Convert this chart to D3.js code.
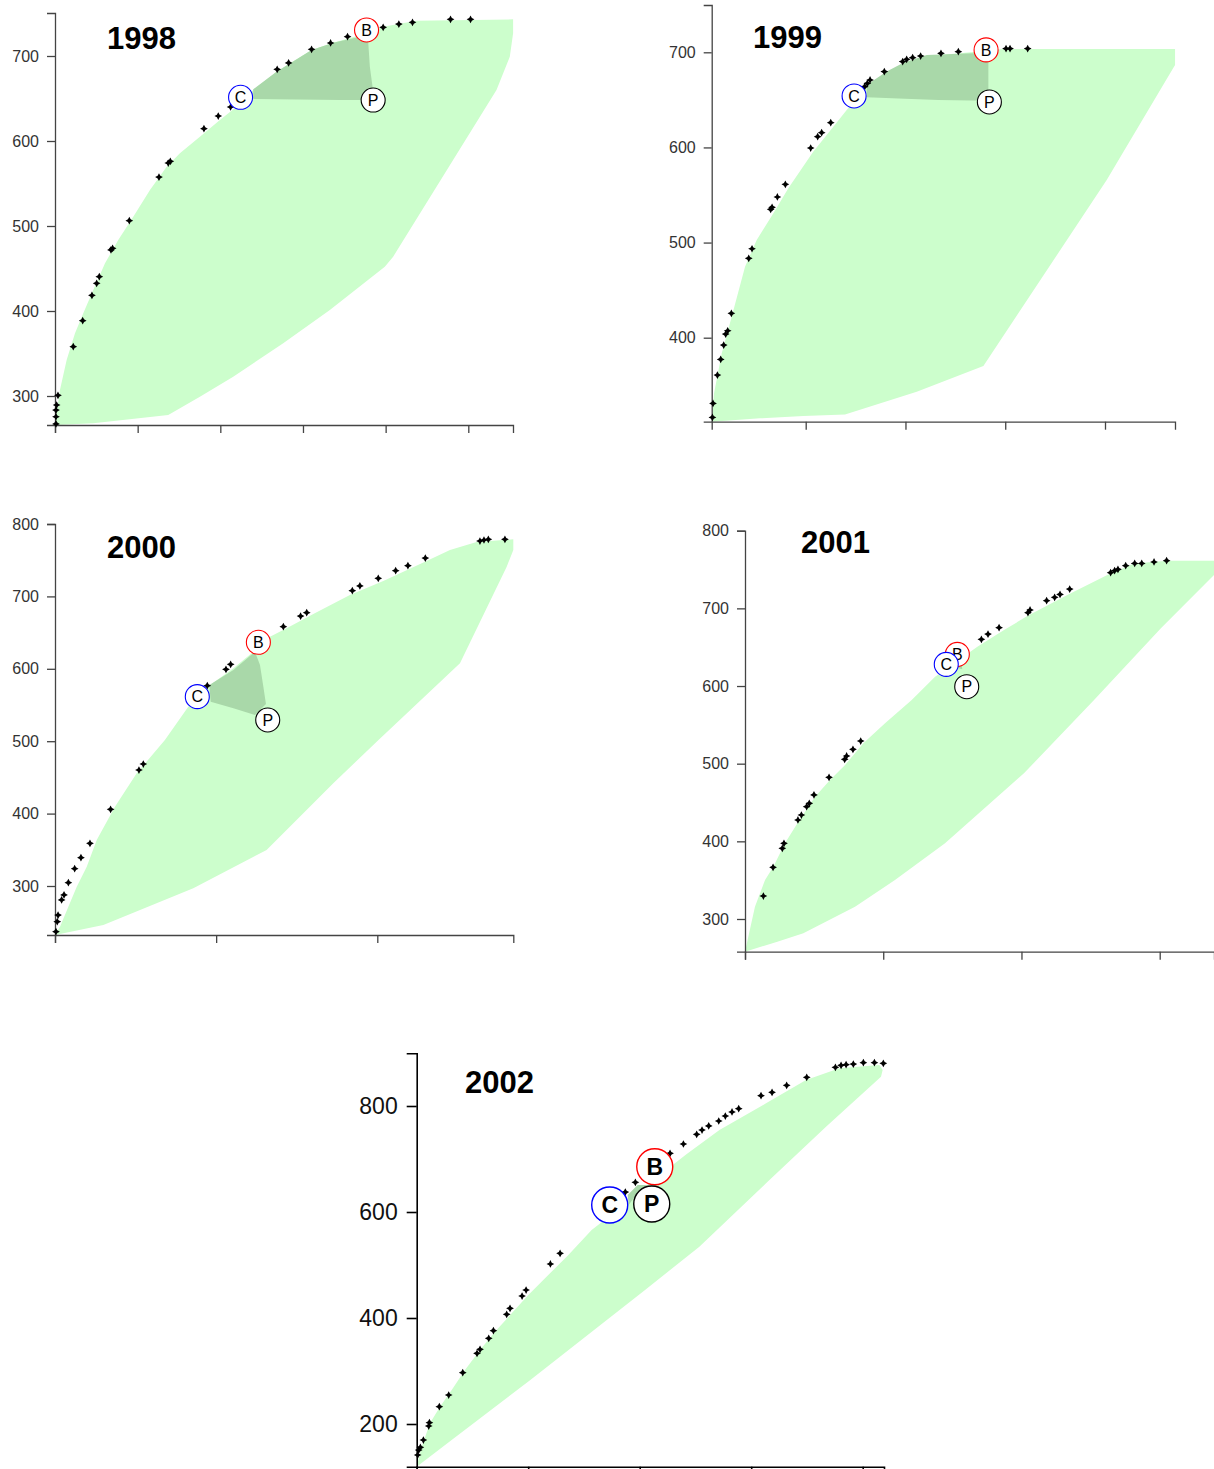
<!DOCTYPE html>
<html>
<head>
<meta charset="utf-8">
<script src="https://cdn.jsdelivr.net/npm/d3@7"></script>
<style>
  body { margin: 0; background: #fff; }
  svg { display: block; }
</style>
</head>
<body>
<svg id="chart" width="1214" height="1469"></svg>
<script>
// values, [x, y] per mark
const years = ["1998", "1999", "2000", "2001", "2002"];

const points1998 = [[0.12,267.1],[0.12,275.6],[0.12,283.5],[0.2,289.4],[0.36,300.8],[2.21,358.0],[3.35,388.6],[4.47,418.5],[5.04,432.6],[5.36,440.4],[6.77,471.8],[6.97,473.8],[8.99,506.3],[12.58,557.6],[13.7,574.1],[13.95,576.1],[18.02,614.5],[19.75,629.4],[21.24,640.0],[26.88,684.3],[28.26,691.8],[31.04,707.9],[33.34,715.3],[35.39,722.7],[39.7,733.8],[41.6,737.6],[43.25,739.6],[47.85,743.2],[50.27,743.2]];
const region1998 = [[0,265.9],[0.6,307.1],[1.41,342.4],[2.42,373.8],[3.42,397.3],[4.63,424.7],[6.05,456.1],[7.65,483.5],[9.47,510.9],[11.49,542.4],[13.51,569.8],[15.11,585.5],[17.53,605.1],[19.95,624.7],[21.97,640.4],[23.98,660.0],[26.8,681.6],[31.04,707.1],[33.66,715.7],[37.69,726.7],[39.7,734.5],[43.73,741.6],[55.42,743.1],[55.42,726.7],[55.02,699.2],[53.41,660.0],[40.91,463.9],[39.9,452.2],[33.25,401.2],[27.61,362.0],[21.56,322.7],[17.53,299.2],[13.7,277.6],[4.63,267.9]];
const shade1998 = [[23.98,660.8],[26.8,681.6],[31.04,707.1],[33.66,715.7],[37.28,723.5],[37.89,716.9],[38.09,687.5],[38.41,664.0],[38.29,648.2],[34.46,648.2],[23.98,649.4]];
const labels1998 = [["B",37.69,730.6],["C",22.45,651.4],["P",38.49,648.2]];
const yTicks1998 = [300,400,500,600,700];
const xTicks1998 = [0,10,20,30,40,50];

const points1999 = [[0.65,316.2],[0.71,330.9],[1.15,360.7],[1.48,377.2],[1.78,392.3],[1.98,403.8],[2.18,407.3],[2.55,425.6],[4.29,483.4],[4.62,493.5],[6.49,534.9],[6.63,537.0],[7.16,547.9],[7.96,561.2],[10.5,599.4],[11.2,611.3],[11.6,615.5],[12.51,626.0],[15.91,663.9],[16.18,667.4],[16.45,670.9],[17.88,679.7],[19.72,690.2],[20.12,692.6],[20.72,694.4],[21.52,696.1],[23.56,698.9],[25.3,700.7],[30.08,703.9],[30.48,703.9],[32.25,703.9]];
const region1999 = [[0.58,311.6],[0.81,341.4],[1.58,383.5],[2.58,422.0],[3.92,474.6],[5.09,502.7],[6.76,530.7],[8.26,557.0],[10.77,595.6],[12.77,621.8],[14.11,639.4],[16.11,663.2],[18.12,678.6],[19.79,687.7],[22.13,696.1],[25.47,698.9],[28.31,701.8],[29.82,703.5],[47.02,703.5],[47.02,686.7],[40.17,565.8],[27.81,370.2],[21.13,343.2],[13.94,319.3],[9.77,317.6],[5.42,315.2]];
const shade1999 = [[16.11,665.7],[18.12,679.7],[19.79,689.1],[22.13,697.2],[26.81,698.9],[28.31,690.2],[28.31,649.2],[23.3,649.9],[19.96,651.3],[16.11,652.7]];
const labels1999 = [["B",28.08,702.5],["C",14.85,654.1],["P",28.41,647.8]];
const yTicks1999 = [400,500,600,700];
const xTicks1999 = [10,20,30,40];

const points2000 = [[0.06,236.9],[0.14,250.7],[0.19,259.9],[0.41,280.7],[0.56,287.6],[0.83,304.6],[1.22,323.9],[1.61,339.1],[2.17,358.9],[3.45,405.9],[5.21,460.2],[5.48,468.5],[9.45,576.7],[10.61,599.3],[10.9,606.2],[14.17,658.2],[15.24,672.9],[15.62,677.5],[18.45,707.9],[18.92,714.4],[20.06,725.0],[21.14,735.5],[21.9,742.4],[22.98,753.0],[26.37,776.5],[26.62,777.9],[26.89,778.8],[27.92,778.8]];
const region2000 = [[0,232.3],[0.31,243.8],[0.83,271.4],[1.35,299.0],[1.97,326.7],[2.59,363.5],[3.72,409.5],[5.07,455.6],[6.82,501.7],[8.27,547.7],[9.82,580.9],[11.07,600.6],[12.31,623.7],[13.34,644.4],[14.37,655.9],[16.03,675.7],[18.3,701.9],[20.37,721.3],[23.06,748.9],[24.51,764.1],[26.16,775.1],[28.44,778.8],[28.44,764.1],[28.03,741.1],[25.13,607.6],[19.96,499.4],[17.27,441.8],[13.13,349.7],[8.58,296.8],[3.0,246.1]];
const shade2000 = [[9.58,577.6],[11.07,598.3],[12.41,623.7],[12.72,605.2],[12.93,575.3],[13.09,551.4],[12.41,536.2],[11.07,545.4],[9.66,554.6]];
const labels2000 = [["B",12.62,636.6],["C",8.83,561.5],["P",13.2,529.3]];
const yTicks2000 = [300,400,500,600,700,800];
const xTicks2000 = [0,10,20];

const points2001 = [[1.33,329.6],[2.03,366.5],[2.7,391.0],[2.82,397.4],[3.83,427.5],[4.08,433.9],[4.46,444.6],[4.65,448.9],[4.99,459.7],[6.08,482.4],[7.21,505.6],[7.35,509.9],[7.81,518.5],[8.37,529.2],[17.1,660.1],[17.58,666.9],[18.38,675.1],[20.47,694.4],[20.62,697.9],[21.82,709.9],[22.4,714.2],[22.79,718.0],[23.49,724.9],[26.45,745.9],[26.74,748.5],[26.98,750.2],[27.54,754.9],[28.19,757.9],[28.7,757.9],[29.59,759.7],[30.5,761.4]];
const region2001 = [[0,257.9],[0.72,315.8],[1.45,350.2],[2.05,367.4],[2.89,397.5],[3.86,425.3],[5.07,457.5],[6.15,479.0],[7.24,498.3],[8.56,526.2],[10.13,552.0],[12.06,582.0],[13.75,612.0],[16.81,650.6],[18.74,672.1],[20.42,690.1],[23.32,717.2],[26.21,742.9],[28.14,757.9],[30.55,761.4],[33.93,761.4],[33.93,742.9],[30.07,674.2],[25.25,582.0],[20.18,487.6],[14.47,397.5],[10.85,350.2],[7.96,315.8],[4.22,281.6],[2.34,270.8]];
const shade2001 = [[15.0,624.9],[15.6,637.8],[15.72,621.5]];
const labels2001 = [["B",15.36,640.8],["C",14.56,627.9],["P",16.04,599.1]];
const yTicks2001 = [300,400,500,600,700,800];
const xTicks2001 = [0,10,20,30];

const points2002 = [[0.09,141.5],[0.18,150.9],[0.33,156.0],[0.6,169.8],[1.08,196.2],[1.14,202.5],[2.03,232.7],[2.87,254.7],[4.13,296.9],[5.41,333.3],[5.68,340.9],[6.46,361.6],[6.88,376.1],[8.07,406.9],[8.37,418.2],[9.45,441.5],[9.81,452.8],[11.99,501.9],[12.86,522.0],[18.71,637.7],[19.61,656.0],[22.72,710.7],[23.92,728.3],[25.11,746.5],[25.59,754.7],[26.19,762.3],[27.09,771.7],[27.68,781.1],[28.28,788.7],[28.88,795.0],[30.88,819.5],[31.87,825.8],[33.18,839.0],[34.98,854.1],[37.55,873.0],[38.06,876.7],[38.51,878.0],[39.16,879.2],[40.06,881.8],[41.05,881.8],[41.85,880.5]];
const region2002 = [[0,119.4],[0.45,157.2],[1.19,201.3],[2.09,232.7],[3.14,264.2],[4.33,301.9],[5.68,339.6],[7.02,374.2],[8.52,408.8],[10.01,443.4],[11.8,481.1],[13.6,518.9],[15.69,566.0],[18.77,616.4],[20.87,654.1],[24.16,708.5],[27.15,754.7],[31.33,805.0],[34.92,849.1],[37.91,871.1],[41.49,877.4],[41.79,867.9],[41.64,855.3],[36.71,761.0],[31.33,654.1],[25.35,534.6],[20.48,452.8],[10.19,283.0],[2.93,166.7]];
const shade2002 = [[18.92,632.1],[19.82,651.1],[20.72,651.1],[19.67,632.1],[19.01,613.2]];
const labels2002 = [["B",21.35,685.5],["C",17.31,613.2],["P",21.08,615.1]];
const yTicks2002 = [200,400,600,800];
const xTicks2002 = [0,10,20,30,40];

// layout: plot frame in px plus two known ticks per axis to pin the scales
const panels = [
  { year: years[0], points: points1998, region: region1998, shade: shade1998, labels: labels1998, yTicks: yTicks1998, xTicks: xTicks1998,
    frame: { left: 55, right: 513, top: 13, bottom: 425 }, yCal: [[300, 396], [700, 56]], xCal: [[0, 55], [50, 468.3]], title: [107, 49], big: false },
  { year: years[1], points: points1999, region: region1999, shade: shade1999, labels: labels1999, yTicks: yTicks1999, xTicks: xTicks1999,
    frame: { left: 711.7, right: 1175, top: 5, bottom: 421.7 }, yCal: [[400, 337.7], [700, 52.3]], xCal: [[10, 805.7], [40, 1105]], title: [753, 48], big: false },
  { year: years[2], points: points2000, region: region2000, shade: shade2000, labels: labels2000, yTicks: yTicks2000, xTicks: xTicks2000,
    frame: { left: 55, right: 513.3, top: 524, bottom: 935 }, yCal: [[300, 886], [800, 524]], xCal: [[0, 55], [20, 377.3]], title: [107, 558], big: false },
  { year: years[3], points: points2001, region: region2001, shade: shade2001, labels: labels2001, yTicks: yTicks2001, xTicks: xTicks2001,
    frame: { left: 745, right: 1214, top: 530.7, bottom: 951.7 }, yCal: [[300, 919], [800, 530.7]], xCal: [[0, 745], [30, 1159.7]], title: [801, 553], big: false },
  { year: years[4], points: points2002, region: region2002, shade: shade2002, labels: labels2002, yTicks: yTicks2002, xTicks: xTicks2002,
    frame: { left: 416.7, right: 884, top: 1053.3, bottom: 1466.7 }, yCal: [[200, 1424], [800, 1106]], xCal: [[0, 416.7], [40, 862.7]], title: [465, 1093], big: true }
];

const labelColor = { B: "#ff0000", C: "#0000ff", P: "#000000" };

// small four-pointed star like the original markers
const star4 = {
  draw(ctx, size) {
    const r = Math.sqrt(size), i = r * 0.35;
    ctx.moveTo(0, -r); ctx.lineTo(i, -i); ctx.lineTo(r, 0); ctx.lineTo(i, i);
    ctx.lineTo(0, r); ctx.lineTo(-i, i); ctx.lineTo(-r, 0); ctx.lineTo(-i, -i);
    ctx.closePath();
  }
};

const svg = d3.select("#chart");

panels.forEach(p => {
  const f = p.frame;
  const x = d3.scaleLinear().domain([p.xCal[0][0], p.xCal[1][0]]).range([p.xCal[0][1], p.xCal[1][1]]);
  x.domain([x.invert(f.left), x.invert(f.right)]).range([f.left, f.right]);
  const y = d3.scaleLinear().domain([p.yCal[0][0], p.yCal[1][0]]).range([p.yCal[0][1], p.yCal[1][1]]);
  y.domain([y.invert(f.bottom), y.invert(f.top)]).range([f.bottom, f.top]);

  const g = svg.append("g").attr("class", "panel-" + p.year);
  const line = d3.line().x(d => x(d[0])).y(d => y(d[1]));

  g.append("path").datum(p.region)
    .attr("d", d => line(d) + "Z")
    .attr("fill", "#ccfecc");

  g.append("path").datum(p.shade)
    .attr("d", d => line(d) + "Z")
    .attr("fill", "#a9d8a9");

  // axes
  const axisColor = p.big ? "#000" : "#444";
  const yAxis = d3.axisLeft(y).tickValues(p.yTicks).tickSizeOuter(0)
    .tickSize(p.big ? 10 : 8).tickPadding(p.big ? 9 : 8);
  const xAxis = d3.axisBottom(x).tickValues(p.xTicks).tickSizeOuter(0)
    .tickSize(8).tickFormat("");

  const ya = g.append("g").attr("transform", `translate(${f.left},0)`).call(yAxis);
  const xa = g.append("g").attr("transform", `translate(0,${f.bottom})`).call(xAxis);
  [ya, xa].forEach(a => {
    a.selectAll("path, line").attr("stroke", axisColor).attr("stroke-width", p.big ? 1.6 : 1.3);
  });
  ya.selectAll("text")
    .attr("font-family", "'Liberation Sans', Arial, sans-serif")
    .attr("font-size", p.big ? 23 : 16)
    .attr("fill", p.big ? "#111" : "#333");

  // frontier points
  g.append("g").selectAll("path").data(p.points).join("path")
    .attr("transform", d => `translate(${x(d[0])},${y(d[1])})`)
    .attr("d", d3.symbol().type(star4).size(15))
    .attr("fill", "#000");

  // B / C / P markers
  const r = p.big ? 18 : 12;
  const lab = g.append("g").selectAll("g").data(p.labels).join("g")
    .attr("transform", d => `translate(${x(d[1])},${y(d[2])})`);
  lab.append("circle").attr("r", r)
    .attr("fill", "#fff")
    .attr("stroke", d => labelColor[d[0]])
    .attr("stroke-width", p.big ? 1.4 : 1.1);
  lab.append("text").text(d => d[0])
    .attr("text-anchor", "middle")
    .attr("dy", "0.36em")
    .attr("font-family", "'Liberation Sans', Arial, sans-serif")
    .attr("font-size", p.big ? 23 : 16)
    .attr("font-weight", p.big ? "bold" : "normal")
    .attr("fill", "#000");

  g.append("text").text(p.year)
    .attr("x", p.title[0]).attr("y", p.title[1])
    .attr("font-family", "'Liberation Sans', Arial, sans-serif")
    .attr("font-size", 31)
    .attr("font-weight", "bold")
    .attr("fill", "#000");
});
</script>
</body>
</html>
